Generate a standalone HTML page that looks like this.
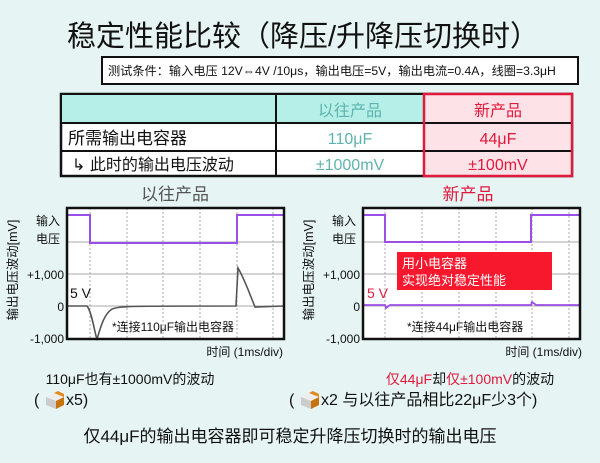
<!DOCTYPE html>
<html><head><meta charset="utf-8"><style>
html,body{margin:0;padding:0;background:#e6f4f4;}
svg{display:block;font-family:"Liberation Sans","Noto Sans CJK SC",sans-serif;}
</style></head><body>
<svg width="600" height="463" viewBox="0 0 600 463">
<rect width="600" height="463" fill="#e6f4f4"/>
<text x="303" y="46" font-size="29" text-anchor="middle" fill="#111">稳定性能比较（降压/升降压切换时）</text>
<rect x="102" y="57" width="476" height="27" fill="#fff" stroke="#111" stroke-width="2"/>
<text x="108" y="75" font-size="12.2" fill="#111">测试条件：输入电压 12V⇔4V /10μs，输出电压=5V，输出电流=0.4A，线圈=3.3μH</text>
<!-- table -->
<rect x="61" y="94" width="511" height="82" fill="#fff" stroke="#111" stroke-width="2.5"/>
<rect x="62" y="95" width="362" height="28" fill="#b5efe7"/>
<rect x="424" y="94" width="148" height="82" fill="#fde3e8"/>
<line x1="61" y1="123" x2="572" y2="123" stroke="#111" stroke-width="2"/>
<line x1="61" y1="151" x2="572" y2="151" stroke="#111" stroke-width="2"/>
<line x1="276" y1="94" x2="276" y2="176" stroke="#111" stroke-width="2"/>
<rect x="424" y="94" width="148" height="82" fill="none" stroke="#e0193d" stroke-width="2.5"/>
<text x="350" y="116" font-size="16" text-anchor="middle" fill="#5fb3ae">以往产品</text>
<text x="498" y="116" font-size="16" text-anchor="middle" fill="#e0193d">新产品</text>
<text x="68" y="144" font-size="17" fill="#111">所需输出电容器</text>
<text x="350" y="144" font-size="16" text-anchor="middle" fill="#5fb3ae">110μF</text>
<text x="498" y="144" font-size="16" text-anchor="middle" fill="#e0193d">44μF</text>
<text x="72" y="170" font-size="16" fill="#111">↳ 此时的输出电压波动</text>
<text x="350" y="170" font-size="16" text-anchor="middle" fill="#5fb3ae">±1000mV</text>
<text x="498" y="170" font-size="16" text-anchor="middle" fill="#e0193d">±100mV</text>

<!-- left chart -->
<text x="175" y="200" font-size="17" text-anchor="middle" fill="#555">以往产品</text>
<g>
<rect x="67" y="208" width="217" height="131" fill="#fff"/>
<g stroke="#aaa" stroke-width="1" stroke-dasharray="2,2">
<line x1="90" y1="208" x2="90" y2="339"/><line x1="127" y1="208" x2="127" y2="339"/><line x1="163" y1="208" x2="163" y2="339"/><line x1="200" y1="208" x2="200" y2="339"/><line x1="237" y1="208" x2="237" y2="339"/><line x1="273" y1="208" x2="273" y2="339"/>
</g>
<g stroke="#aaa" stroke-width="1"><line x1="67" y1="242" x2="284" y2="242"/><line x1="67" y1="274" x2="284" y2="274"/><line x1="67" y1="306" x2="284" y2="306"/></g>
<polyline points="67,215 90,215 90,243 237,243 237,215 284,215" fill="none" stroke="#9b4fe8" stroke-width="2"/>
<path d="M67,306 L87,306 C92,312 95,335 97,339 C100,330 103,315 112,309 C120,306 130,306 236,306 L238,268 C245,280 250,295 255,307 L284,306" fill="none" stroke="#555" stroke-width="1.6"/>
<rect x="67" y="208" width="217" height="131" fill="none" stroke="#111" stroke-width="2.5"/>
</g>
<text x="60" y="225" font-size="12" text-anchor="end" fill="#111">输入</text>
<text x="60" y="243" font-size="12" text-anchor="end" fill="#111">电压</text>
<text x="64" y="279" font-size="12" text-anchor="end" fill="#111">+1,000</text>
<text x="64" y="311" font-size="12" text-anchor="end" fill="#111">0</text>
<text x="64" y="343" font-size="12" text-anchor="end" fill="#111">-1,000</text>
<text x="70" y="298" font-size="14" fill="#111">5 V</text>
<text x="112" y="331" font-size="12" fill="#111">*连接110μF输出电容器</text>
<text x="283" y="356" font-size="12" text-anchor="end" fill="#111">时间 (1ms/div)</text>
<text transform="translate(17,270) rotate(-90)" font-size="12.5" text-anchor="middle" fill="#111">输出电压波动[mV]</text>

<!-- right chart -->
<text x="468" y="200" font-size="17" text-anchor="middle" fill="#e0193d">新产品</text>
<g>
<rect x="363" y="208" width="217" height="131" fill="#fff"/>
<g stroke="#aaa" stroke-width="1" stroke-dasharray="2,2">
<line x1="385" y1="208" x2="385" y2="339"/><line x1="422" y1="208" x2="422" y2="339"/><line x1="459" y1="208" x2="459" y2="339"/><line x1="496" y1="208" x2="496" y2="339"/><line x1="532" y1="208" x2="532" y2="339"/><line x1="569" y1="208" x2="569" y2="339"/>
</g>
<g stroke="#aaa" stroke-width="1"><line x1="363" y1="242" x2="580" y2="242"/><line x1="363" y1="274" x2="580" y2="274"/><line x1="363" y1="306" x2="580" y2="306"/></g>
<polyline points="363,215 385,215 385,242 531,242 531,215 580,215" fill="none" stroke="#9b4fe8" stroke-width="2"/>
<path d="M363,305 L385,305 L386,308 L390,305 L531,305 L532,302 L536,305 L580,305" fill="none" stroke="#9b4fe8" stroke-width="1.8"/>
<rect x="363" y="208" width="217" height="131" fill="none" stroke="#111" stroke-width="2.5"/>
<rect x="397" y="252" width="155" height="38" fill="#f7182e"/>
<text x="402" y="268" font-size="13" fill="#fff">用小电容器</text>
<text x="402" y="285" font-size="13" fill="#fff">实现绝对稳定性能</text>
</g>
<text x="356" y="225" font-size="12" text-anchor="end" fill="#111">输入</text>
<text x="356" y="243" font-size="12" text-anchor="end" fill="#111">电压</text>
<text x="360" y="279" font-size="12" text-anchor="end" fill="#111">+1,000</text>
<text x="360" y="311" font-size="12" text-anchor="end" fill="#111">0</text>
<text x="360" y="343" font-size="12" text-anchor="end" fill="#111">-1,000</text>
<text x="367" y="298" font-size="14" fill="#e0193d">5 V</text>
<text x="407" y="331" font-size="12" fill="#111">*连接44μF输出电容器</text>
<text x="582" y="356" font-size="12" text-anchor="end" fill="#111">时间 (1ms/div)</text>
<text transform="translate(313,270) rotate(-90)" font-size="12.5" text-anchor="middle" fill="#111">输出电压波动[mV]</text>

<!-- bottom -->
<text x="130" y="384" font-size="14" text-anchor="middle" fill="#111">110μF也有±1000mV的波动</text>
<text x="34" y="405" font-size="16" fill="#111">(</text>
<g transform="translate(46,391)">
<polygon points="0,6 8,2 18,6 10,10" fill="#eee"/><polygon points="0,6 10,10 10,18 0,14" fill="#ccc"/><polygon points="10,10 18,6 18,14 10,18" fill="#c8720e"/><polygon points="8,2 12,0 18,3 18,6" fill="#e08a20"/>
</g>
<text x="66" y="405" font-size="16" fill="#111">x5)</text>
<text x="470" y="384" font-size="14" text-anchor="middle"><tspan fill="#e0193d">仅44μF</tspan><tspan fill="#111">却</tspan><tspan fill="#e0193d">仅±100mV</tspan><tspan fill="#111">的波动</tspan></text>
<text x="289" y="405" font-size="16" fill="#111">(</text>
<g transform="translate(301,391)">
<polygon points="0,6 8,2 18,6 10,10" fill="#eee"/><polygon points="0,6 10,10 10,18 0,14" fill="#ccc"/><polygon points="10,10 18,6 18,14 10,18" fill="#c8720e"/><polygon points="8,2 12,0 18,3 18,6" fill="#e08a20"/>
</g>
<text x="321" y="405" font-size="16" fill="#111">x2 与以往产品相比22μF少3个)</text>
<text x="290" y="442" font-size="17" text-anchor="middle" fill="#111">仅44μF的输出电容器即可稳定升降压切换时的输出电压</text>
</svg>
</body></html>
